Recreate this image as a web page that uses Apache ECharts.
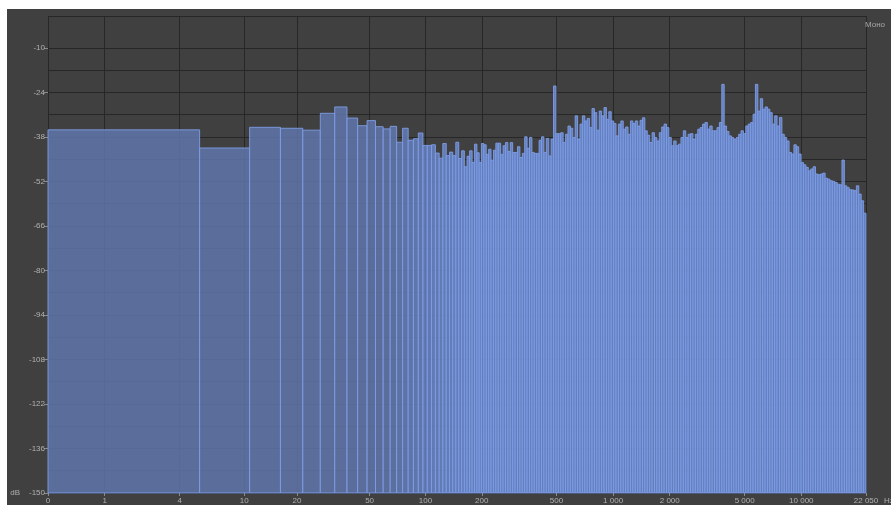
<!DOCTYPE html>
<html>
<head>
<meta charset="utf-8">
<script src="https://cdn.jsdelivr.net/npm/echarts@6/dist/echarts.min.js"></script>
<style>
  html, body { margin: 0; padding: 0; background: #ffffff; }
  #chart { position: absolute; left: 7px; top: 9px; width: 884px; height: 496px; background: #404040; }
</style>
</head>
<body>
<div id="chart"></div>
<script>
// Spectrum (mono), FFT 8192 @ 44.1 kHz — frequency axis is log10(f + 1)
const NYQUIST = 22050;
const BIN_HZ = 44100 / 8192;

const FREQ_TICKS = [0, 1, 4, 10, 20, 50, 100, 200, 500, 1000, 2000, 5000, 10000, 22050];
const DB_LABELS = [-150, -136, -122, -108, -94, -80, -66, -52, -38, -24, -10];
const DB_GRID = [-150, -143, -136, -129, -122, -115, -108, -101, -94, -87, -80, -73, -66, -59,
  -52, -45, -38, -31, -24, -17, -10, 0];

// one value per FFT bin, bins 0..36 (0 – 199 Hz)
const LOW_DB = [-35.8, -41.5, -35.0, -35.3, -35.9, -30.6, -28.6, -32.1, -34.5, -32.9,
  -34.8, -35.5, -34.7, -39.7, -35.3, -39.1, -38.6, -36.8, -40.7, -40.7,
  -40.5, -43.1, -44.7, -40.1, -43.9, -42.8, -43.9, -39.7, -44.8, -42.4,
  -47.4, -44.1, -42.4, -46.1, -40.3, -43.0, -46.1];

// 199 Hz – 22 050 Hz, equal-width columns on the log axis
const HIGH_DB = [
  -40.1, -40.5, -43.5, -41.9, -45.3, -42.2, -40.0, -40.0, -43.5, -40.8,
  -39.8, -42.6, -39.8, -42.9, -42.9, -41.1, -44.5, -43.2, -38.0, -41.6,
  -38.2, -42.9, -43.2, -43.2, -39.1, -38.0, -42.9, -38.5, -44.0, -38.7,
  -22.0, -37.0, -37.0, -36.7, -39.8, -37.2, -34.6, -35.3, -38.2, -31.4,
  -38.7, -34.0, -31.4, -33.0, -32.2, -35.1, -29.1, -30.4, -35.9, -29.9,
  -31.4, -28.8, -32.5, -30.1, -33.0, -33.8, -37.7, -34.0, -33.0, -35.6,
  -34.9, -37.2, -33.0, -33.8, -33.0, -34.6, -32.8, -32.0, -36.1, -37.5,
  -39.8, -36.7, -38.2, -39.3, -36.7, -34.9, -34.0, -35.1, -38.2, -40.8,
  -39.3, -40.8, -40.3, -38.2, -36.1, -38.2, -37.2, -37.0, -38.7, -37.2,
  -35.6, -35.1, -34.0, -33.5, -35.6, -34.6, -36.1, -36.1, -35.1, -33.5,
  -21.5, -34.6, -36.3, -37.7, -38.2, -38.7, -38.2, -37.2, -36.1, -37.0,
  -34.6, -34.0, -33.5, -30.9, -21.5, -29.9, -26.0, -29.3, -28.6, -29.3,
  -30.4, -34.0, -31.4, -34.6, -31.9, -37.2, -38.2, -39.3, -42.9, -43.4,
  -40.5, -41.1, -43.4, -46.1, -46.8, -47.6, -48.7, -48.1, -47.4, -49.7,
  -49.9, -49.7, -49.4, -51.0, -51.3, -51.8, -52.0, -52.3, -52.9, -53.1,
  -45.3, -53.4, -53.9, -54.6, -54.7, -54.9, -53.4, -56.0, -58.1, -62.0
];

const DB_MIN = -150;
const LABEL = '#b0b0b0';
const GRIDLINE = '#272727';
const FILL_WIDE = [95, 118, 170];
const FILL_DENSE = [104, 134, 204];

const u = (f) => Math.log10(f + 1);
const fmtHz = (n) => String(n).replace(/\B(?=(\d{3})+(?!\d))/g, ' ');

// [uStart, uEnd, dB]
const bars = [];
LOW_DB.forEach((db, k) => bars.push([u(k * BIN_HZ), u((k + 1) * BIN_HZ), db]));
const hiStart = u(LOW_DB.length * BIN_HZ);
const hiStep = (u(NYQUIST) - hiStart) / HIGH_DB.length;
HIGH_DB.forEach((db, i) => bars.push([hiStart + i * hiStep, hiStart + (i + 1) * hiStep, db]));

// narrow bins pile up and read brighter, like the original analyser
function fillFor(w) {
  const t = Math.min(1, Math.max(0, (7 - w) / 4.5));
  const c = FILL_WIDE.map((a, i) => Math.round(a + (FILL_DENSE[i] - a) * t));
  return `rgba(${c[0]},${c[1]},${c[2]},${(0.86 + 0.04 * t).toFixed(2)})`;
}

const chart = echarts.init(document.getElementById('chart'));
chart.setOption({
  animation: false,
  backgroundColor: 'transparent',
  textStyle: { fontFamily: 'Liberation Sans, Arial, sans-serif' },
  title: {
    text: 'Моно', right: 1, top: 7,
    textStyle: { fontSize: 8, color: '#a6a6a6', fontWeight: 'normal' },
  },
  // unit after the last frequency label, cut by the window edge like the original
  graphic: [{
    type: 'text', left: 877, top: 488, silent: true,
    style: { text: 'Hz', fill: LABEL, font: '8px "Liberation Sans", Arial, sans-serif' },
  }],
  grid: { left: 41, right: 25, top: 7, bottom: 10 },
  xAxis: {
    type: 'value', min: 0, max: u(NYQUIST),
    axisLine: { show: false, onZero: false },
    axisTick: { show: true, length: 3, customValues: FREQ_TICKS.map(u), lineStyle: { color: '#8a8a8a' } },
    axisLabel: {
      customValues: FREQ_TICKS.map(u), color: LABEL, fontSize: 8, margin: 4,
      formatter: (v) => fmtHz(Math.round(Math.pow(10, v) - 1)),
    },
    splitLine: { show: true, lineStyle: { color: GRIDLINE, width: 1 } },
  },
  yAxis: [{
    type: 'value', min: DB_MIN, max: 0,
    axisLine: { show: false },
    axisTick: { show: true, length: 4, customValues: DB_LABELS, lineStyle: { color: '#8a8a8a' } },
    axisLabel: {
      customValues: DB_LABELS, color: LABEL, fontSize: 8, margin: 3,
      formatter: (v) => (v === DB_MIN ? 'dB    ' + v : String(v)),
    },
    splitLine: { show: false },
  }, {
    // gridlines every 7 dB
    type: 'value', min: DB_MIN, max: 0,
    axisLine: { show: false },
    axisTick: { show: false, customValues: DB_GRID },
    axisLabel: { show: false },
    splitLine: { show: true, lineStyle: { color: GRIDLINE, width: 1 } },
  }],
  series: [{
    type: 'custom',
    silent: true,
    xAxisIndex: 0, yAxisIndex: 0,
    data: bars,
    renderItem: (params, api) => {
      const p0 = api.coord([api.value(0), api.value(2)]);
      const p1 = api.coord([api.value(1), DB_MIN]);
      const w = p1[0] - p0[0];
      return {
        type: 'rect',
        shape: { x: p0[0], y: p0[1], width: w, height: p1[1] - p0[1] },
        style: {
          fill: fillFor(w),
          stroke: 'rgba(126,157,229,0.9)',
          lineWidth: 1,
        },
      };
    },
  }],
});
</script>
</body>
</html>
